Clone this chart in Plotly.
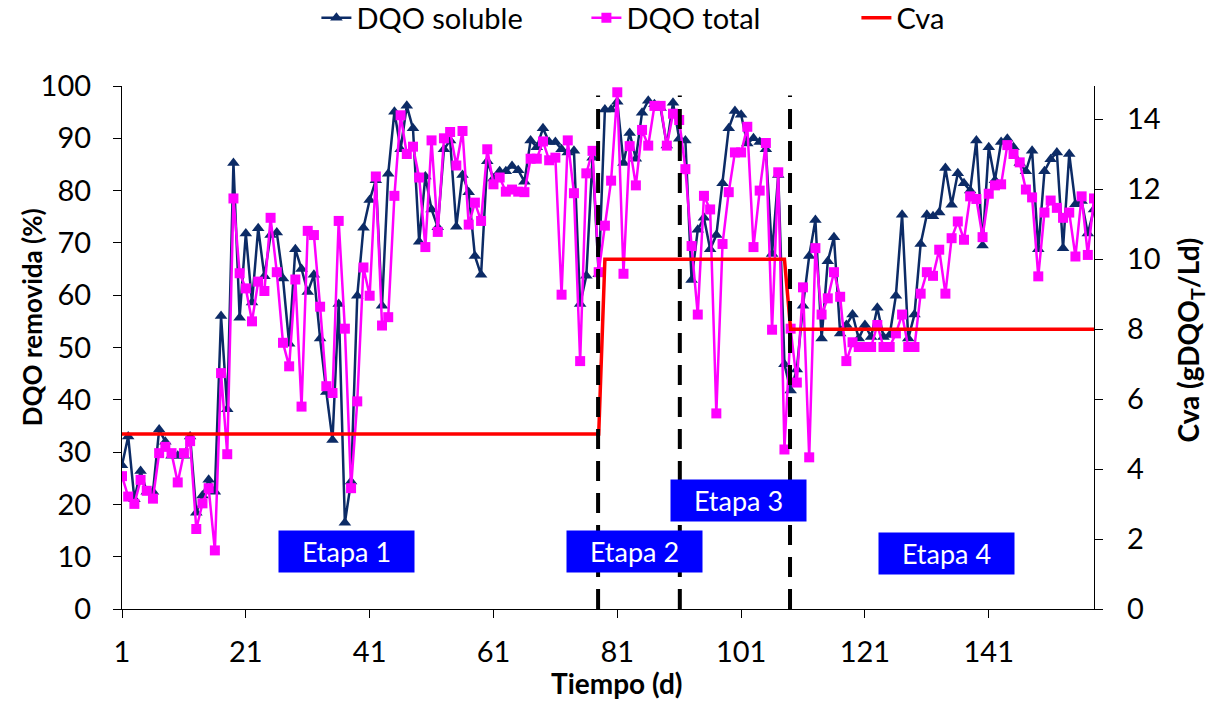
import plotly.graph_objects as go

days = list(range(1, 159))

dqo_soluble = [
    27.5, 33.0, 21.0, 26.4, 22.4, 22.4, 34.3, 32.0, 29.3, 29.3,
    29.3, 33.0, 18.4, 21.7, 24.7, 22.4, 56.0, 38.2, 85.3, 55.7,
    71.8, 58.6, 72.8, 63.6, 71.5, 72.0, 63.2, 50.7, 68.8, 65.0,
    60.6, 63.9, 51.7, 41.5, 32.3, 58.3, 16.5, 24.4, 59.9, 72.9,
    78.2, 82.0, 58.0, 83.2, 95.1, 87.9, 96.2, 91.9, 70.2, 82.7,
    76.4, 73.0, 87.9, 89.6, 73.1, 83.0, 79.7, 67.5, 63.9, 85.6,
    82.3, 83.7, 83.7, 84.7, 83.9, 81.7, 89.6, 88.3, 91.9, 89.3,
    89.3, 87.9, 87.3, 87.6, 58.3, 63.7, 86.3, 64.0, 95.5, 95.5,
    97.0, 85.3, 91.0, 86.1, 94.9, 97.2, 96.5, 95.8, 88.6, 96.8,
    89.9, 89.6, 62.9, 72.5, 74.8, 68.8, 71.5, 81.4, 91.9, 95.2,
    94.5, 89.0, 90.0, 89.3, 87.9, 67.9, 83.0, 46.8, 41.8, 45.8,
    58.0, 67.5, 74.4, 51.7, 66.5, 71.1, 52.7, 54.3, 56.3, 51.7,
    54.3, 52.0, 57.6, 52.0, 52.4, 59.9, 75.4, 51.7, 56.3, 69.8,
    75.4, 75.1, 75.8, 84.3, 77.3, 83.3, 81.4, 80.0, 89.6, 69.5,
    88.3, 82.0, 89.3, 89.9, 88.3, 85.3, 83.7, 87.6, 68.8, 83.7,
    86.0, 87.3, 69.0, 87.0, 77.4, 78.0, 71.8, 76.4,
]

dqo_total = [
    25.4, 21.5, 20.1, 24.7, 22.6, 21.1, 29.8, 31.0, 29.8, 24.2,
    29.8, 32.1, 15.3, 20.2, 23.1, 11.2, 45.1, 29.6, 78.5, 64.2,
    61.3, 55.0, 62.6, 60.8, 74.8, 64.4, 50.9, 46.4, 63.0, 38.7,
    72.3, 71.5, 57.8, 42.6, 41.3, 74.2, 53.6, 23.1, 39.7, 65.3,
    59.9, 82.7, 54.2, 55.8, 79.0, 94.4, 87.0, 88.4, 82.5, 69.2,
    89.6, 72.1, 90.0, 91.2, 84.8, 91.4, 73.5, 77.7, 74.2, 87.9,
    81.2, 82.5, 79.8, 80.2, 79.8, 79.7, 86.1, 86.1, 89.4, 85.8,
    86.3, 60.1, 89.6, 79.5, 47.4, 83.3, 87.6, 64.4, 73.3, 81.9,
    98.8, 64.1, 88.5, 81.0, 91.6, 88.6, 96.2, 96.2, 88.6, 94.7,
    93.5, 84.1, 69.4, 56.3, 79.0, 76.4, 37.4, 69.8, 79.7, 87.3,
    87.3, 92.2, 69.2, 80.0, 89.1, 53.4, 83.5, 30.5, 53.6, 43.3,
    61.5, 29.0, 69.0, 56.3, 59.4, 64.4, 59.7, 47.4, 51.0, 50.1,
    50.1, 50.1, 54.3, 50.1, 50.1, 52.7, 56.3, 50.1, 50.1, 60.3,
    64.4, 63.7, 68.7, 60.3, 70.9, 74.1, 70.6, 78.9, 78.4, 71.1,
    79.4, 81.0, 81.2, 88.7, 87.0, 85.4, 80.2, 78.7, 63.6, 75.8,
    78.1, 76.7, 74.8, 75.8, 67.4, 78.9, 67.7, 78.5,
]

cva_days = [1, 78, 79, 108, 109, 158]
cva_values = [5, 5, 10, 10, 8, 8]

stage_bounds = [77.9, 91.1, 108.9]
stage_labels = ["Etapa 1", "Etapa 2", "Etapa 3", "Etapa 4"]
stage_label_x = [37.2, 83.7, 100.5, 134.2]
stage_label_y = [10.9, 10.9, 20.7, 10.6]

x_ticks = [1, 21, 41, 61, 81, 101, 121, 141]
y2_ticks = [0, 2, 4, 6, 8, 10, 12, 14]

FONT = "Lato"
NAVY = "#0c2b66"
PINK = "#ff00ff"
RED = "#ff0000"

fig = go.Figure()
fig.add_trace(go.Scatter(
    x=days, y=dqo_soluble, name="DQO soluble", mode="lines+markers",
    line=dict(color=NAVY, width=2.5),
    marker=dict(symbol="triangle-up", size=11, color=NAVY),
))
fig.add_trace(go.Scatter(
    x=days, y=dqo_total, name="DQO total", mode="lines+markers",
    line=dict(color=PINK, width=2.5),
    marker=dict(symbol="square", size=10, color=PINK),
))
fig.add_trace(go.Scatter(
    x=cva_days, y=cva_values, name="Cva", mode="lines",
    line=dict(color=RED, width=3.5), yaxis="y2",
))

for xb in stage_bounds:
    fig.add_shape(type="line", xref="x", yref="paper", x0=xb, x1=xb, y0=0, y1=0.982,
                  line=dict(color="black", width=4, dash="20px,12px"), layer="above")

for lab, lx, ly in zip(stage_labels, stage_label_x, stage_label_y):
    fig.add_annotation(x=lx, y=ly, xref="x", yref="y", text=lab, showarrow=False,
                       font=dict(family=FONT, size=27, color="white"),
                       bgcolor="#0000ff", width=135, height=41, borderpad=0)

# axis titles
fig.add_annotation(x=0.509, y=-0.1415, xref="paper", yref="paper", showarrow=False,
                   text="<b>Tiempo (d)</b>", font=dict(family=FONT, size=28, color="black"),
                   xanchor="center", yanchor="middle")
fig.add_annotation(x=-0.0926, y=0.558, xref="paper", yref="paper", showarrow=False,
                   text="<b>DQO removida (%)</b>", textangle=-90,
                   font=dict(family=FONT, size=26, color="black"),
                   xanchor="center", yanchor="middle")
fig.add_annotation(x=1.099, y=0.514, xref="paper", yref="paper", showarrow=False,
                   text="<b>Cva (gDQO<sub>T</sub>/Ld)</b>", textangle=-90,
                   font=dict(family=FONT, size=28, color="black"),
                   xanchor="center", yanchor="middle")

axis_common = dict(showgrid=False, zeroline=False, showline=True, linecolor="black",
                   linewidth=1.3, ticks="outside", ticklen=8, tickwidth=1.3, automargin=False,
                   tickcolor="black", tickfont=dict(family=FONT, size=29, color="black"))

fig.update_layout(
    width=1212, height=702,
    margin=dict(l=122, r=118, t=86, b=93, autoexpand=False),
    plot_bgcolor="white", paper_bgcolor="white",
    font=dict(family=FONT, color="black"),
    xaxis=dict(range=[1, 158], tickvals=x_ticks, ticklabelstandoff=9, **axis_common),
    yaxis=dict(range=[0, 100], dtick=10, ticklabelstandoff=16, **axis_common),
    yaxis2=dict(range=[0, 14.95], tickvals=y2_ticks, overlaying="y",
                side="right", ticklabelstandoff=18, **axis_common),
    legend=dict(orientation="h", x=0.2, xanchor="left", y=1.13, yref="paper",
                yanchor="middle", font=dict(family=FONT, size=29, color="black"),
                entrywidth=225, bgcolor="rgba(0,0,0,0)"),
    showlegend=True,
)

fig.write_html("out.html")
